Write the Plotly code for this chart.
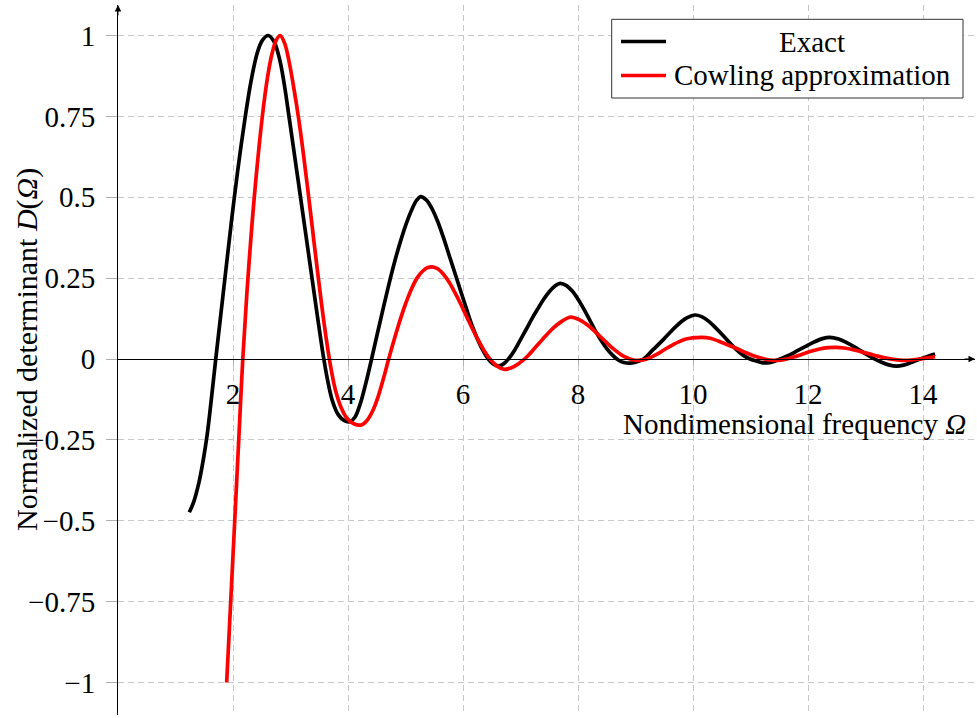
import plotly.graph_objects as go

# ---- data (estimated by eye) ----
exact_x = [1.24, 1.32, 1.41, 1.48, 1.55, 1.62, 1.70, 1.78, 1.86, 1.94, 2.02, 2.11, 2.21, 2.31,
           2.42, 2.51, 2.61, 2.71, 2.81, 2.89, 2.96, 3.07, 3.17, 3.27, 3.37, 3.47, 3.57, 3.65,
           3.73, 3.83, 3.93, 4.03, 4.12, 4.21, 4.31, 4.41, 4.51, 4.61, 4.71, 4.81, 4.91, 5.01,
           5.11, 5.19, 5.26, 5.36, 5.46, 5.56, 5.66, 5.76, 5.86, 5.96, 6.06, 6.16, 6.26, 6.36,
           6.44, 6.52, 6.61, 6.70, 6.79, 6.90, 7.00, 7.10, 7.20, 7.30, 7.40, 7.50, 7.60, 7.69,
           7.80, 7.90, 8.00, 8.10, 8.20, 8.30, 8.40, 8.50, 8.60, 8.70, 8.80, 8.90, 9.00, 9.14,
           9.30, 9.40, 9.50, 9.60, 9.70, 9.80, 9.90, 10.03, 10.15, 10.27, 10.39, 10.51, 10.63,
           10.75, 10.87, 10.99, 11.10, 11.20, 11.28, 11.38, 11.51, 11.65, 11.80, 11.95, 12.10,
           12.25, 12.38, 12.53, 12.68, 12.83, 12.98, 13.13, 13.28, 13.42, 13.54, 13.66, 13.78,
           13.95, 14.08, 14.21]
exact_y = [-0.474, -0.44, -0.38, -0.315, -0.235, -0.13, 0.0, 0.125, 0.25, 0.375, 0.495, 0.62,
           0.745, 0.855, 0.945, 0.985, 1.0, 0.982, 0.927, 0.851, 0.767, 0.63, 0.505, 0.38,
           0.255, 0.13, 0.01, -0.07, -0.13, -0.172, -0.19, -0.194, -0.18, -0.14, -0.075, 0.0,
           0.078, 0.155, 0.23, 0.30, 0.362, 0.417, 0.462, 0.49, 0.502, 0.492, 0.465, 0.425,
           0.375, 0.32, 0.265, 0.21, 0.155, 0.102, 0.058, 0.022, 0.0, -0.015, -0.022, -0.016,
           0.0, 0.028, 0.06, 0.092, 0.125, 0.155, 0.184, 0.208, 0.226, 0.234, 0.227, 0.21,
           0.185, 0.155, 0.122, 0.088, 0.058, 0.032, 0.012, -0.003, -0.011, -0.013, -0.01, 0.0,
           0.028, 0.045, 0.063, 0.082, 0.10, 0.116, 0.128, 0.136, 0.131, 0.117, 0.097, 0.075,
           0.052, 0.03, 0.012, 0.0, -0.006, -0.011, -0.012, -0.009, 0.0, 0.01, 0.024, 0.038,
           0.052, 0.063, 0.067, 0.062, 0.05, 0.035, 0.018, 0.003, -0.01, -0.019, -0.022, -0.019,
           -0.012, 0.0, 0.008, 0.015]

cowling_x = [1.89, 1.96, 2.03, 2.10, 2.17, 2.26, 2.37, 2.51, 2.60, 2.68, 2.75, 2.82, 2.90,
             2.98, 3.06, 3.14, 3.22, 3.30, 3.38, 3.46, 3.54, 3.62, 3.70, 3.78, 3.88, 3.98,
             4.10, 4.23, 4.33, 4.43, 4.53, 4.62, 4.70, 4.80, 4.90, 5.00, 5.10, 5.20, 5.30,
             5.38, 5.46, 5.56, 5.66, 5.76, 5.86, 5.96, 6.06, 6.16, 6.26, 6.36, 6.46, 6.56,
             6.65, 6.73, 6.83, 6.93, 7.03, 7.13, 7.23, 7.33, 7.43, 7.53, 7.63, 7.73, 7.86,
             7.96, 8.06, 8.16, 8.26, 8.36, 8.46, 8.56, 8.66, 8.76, 8.86, 8.96, 9.05, 9.15,
             9.25, 9.35, 9.45, 9.55, 9.65, 9.75, 9.85, 9.95, 10.05, 10.15, 10.30, 10.45,
             10.60, 10.75, 10.90, 11.05, 11.20, 11.33, 11.46, 11.60, 11.75, 11.90, 12.05,
             12.20, 12.35, 12.48, 12.63, 12.78, 12.93, 13.08, 13.23, 13.38, 13.52, 13.66,
             13.80, 13.95, 14.10, 14.21]
cowling_y = [-1.0, -0.75, -0.5, -0.25, 0.0, 0.25, 0.5, 0.75, 0.87, 0.945, 0.985, 1.0, 0.975,
             0.915, 0.835, 0.745, 0.64, 0.525, 0.405, 0.285, 0.17, 0.065, -0.025, -0.095,
             -0.15, -0.183, -0.2, -0.204, -0.19, -0.16, -0.113, -0.058, -0.005, 0.058, 0.117,
             0.17, 0.215, 0.25, 0.272, 0.282, 0.285, 0.279, 0.262, 0.237, 0.205, 0.17, 0.132,
             0.095, 0.06, 0.028, 0.002, -0.017, -0.028, -0.032, -0.028, -0.019, -0.006, 0.01,
             0.03, 0.05, 0.07, 0.089, 0.105, 0.118, 0.129, 0.126, 0.118, 0.106, 0.091, 0.074,
             0.057, 0.04, 0.025, 0.012, 0.003, -0.003, -0.004, -0.002, 0.004, 0.013, 0.023,
             0.034, 0.044, 0.053, 0.06, 0.064, 0.066, 0.067, 0.064, 0.055, 0.044, 0.033, 0.021,
             0.01, 0.002, -0.003, -0.004, -0.001, 0.006, 0.015, 0.024, 0.031, 0.035, 0.036,
             0.034, 0.029, 0.022, 0.015, 0.008, 0.002, -0.002, -0.004, -0.003, 0.0, 0.004,
             0.007]

x_ticks = [2, 4, 6, 8, 10, 12, 14]
y_ticks = [1, 0.75, 0.5, 0.25, 0, -0.25, -0.5, -0.75, -1]
y_ticktext = ["1", "0.75", "0.5", "0.25", "0", "\u22120.25", "\u22120.5", "\u22120.75", "\u22121"]
series_names = ["Exact", "Cowling approximation"]

# ---- figure ----
FONT = "Liberation Serif, Times New Roman, serif"
FS = 29
W, H = 977, 718
ML, MR, MT, MB = 118, 2, 5, 3
XR = [0, 14.904]
YR = [-1.1005, 1.0943]
GRID = "#c8c8c8"
LW = 3.7

fig = go.Figure()
fig.add_trace(go.Scatter(x=exact_x, y=exact_y, mode="lines", name=series_names[0],
                         line=dict(color="black", width=LW, shape="spline", smoothing=1.0),
                         showlegend=False))
fig.add_trace(go.Scatter(x=cowling_x, y=cowling_y, mode="lines", name=series_names[1],
                         line=dict(color="#ff0000", width=LW, shape="spline", smoothing=1.0),
                         showlegend=False))

xpos = (0 - YR[0]) / (YR[1] - YR[0])
fig.update_layout(
    width=W, height=H,
    margin=dict(l=ML, r=MR, t=MT, b=MB),
    paper_bgcolor="white", plot_bgcolor="white",
    font=dict(family=FONT, size=FS, color="black"),
    xaxis=dict(range=XR, anchor="free", position=xpos, showline=True, linecolor="black",
               linewidth=1, ticks="outside", ticklen=6, tickcolor="#b0b0b0",
               tickvals=x_ticks, showgrid=True, gridcolor=GRID, griddash="6px,4px",
               gridwidth=1, zeroline=False, tickfont=dict(size=FS), ticklabelstandoff=3),
    yaxis=dict(range=YR, showline=True, linecolor="black", linewidth=1,
               ticks="outside", ticklen=11, tickcolor="#b0b0b0",
               tickvals=y_ticks, ticktext=y_ticktext, showgrid=True, gridcolor=GRID,
               griddash="6px,4px", gridwidth=1, zeroline=False, tickfont=dict(size=FS),
               ticklabelstandoff=5),
)

def px2paper_x(px):
    return (px - ML) / (W - ML - MR)

def py2paper_y(py):
    return (H - MB - py) / (H - MT - MB)

annotations = [
    # axis arrows
    dict(x=XR[1], y=0, xref="x", yref="y", ax=-12, ay=0,
         text="", showarrow=True, arrowhead=2, arrowsize=1.3, arrowwidth=1, arrowcolor="black"),
    dict(x=0, y=YR[1], xref="x", yref="y", ax=0, ay=12, text="", showarrow=True,
         arrowhead=2, arrowsize=1.3, arrowwidth=1, arrowcolor="black"),
    # axis titles
    dict(x=14.78, y=-0.201, xref="x", yref="y", xanchor="right", yanchor="middle",
         text="Nondimensional frequency <i>\u03a9</i>", showarrow=False, font=dict(size=FS)),
    dict(x=0, y=py2paper_y(350), xref="paper", yref="paper", xshift=27 - ML,
         xanchor="center", yanchor="middle", textangle=-90,
         text="Normalized determinant <i>D</i>(<i>\u03a9</i>)", showarrow=False,
         font=dict(size=30)),
]

# legend (drawn manually to centre the entry texts like the reference)
shapes = [dict(type="rect", xref="paper", yref="paper",
               x0=px2paper_x(611.7), x1=px2paper_x(963), y0=py2paper_y(98), y1=py2paper_y(19.3),
               fillcolor="white", line=dict(color="#333333", width=1), layer="above")]
for i, (name, col) in enumerate(zip(series_names, ["black", "#ff0000"])):
    yy = py2paper_y([41.5, 75.5][i])
    shapes.append(dict(type="line", xref="paper", yref="paper", x0=px2paper_x(621),
                       x1=px2paper_x(666), y0=yy, y1=yy, line=dict(color=col, width=LW),
                       layer="above"))
    annotations.append(dict(x=px2paper_x(812), y=yy, xref="paper", yref="paper",
                            xanchor="center", yanchor="middle", text=name, showarrow=False,
                            font=dict(size=FS)))

fig.update_layout(shapes=shapes, annotations=annotations)
fig.write_html("out.html")
